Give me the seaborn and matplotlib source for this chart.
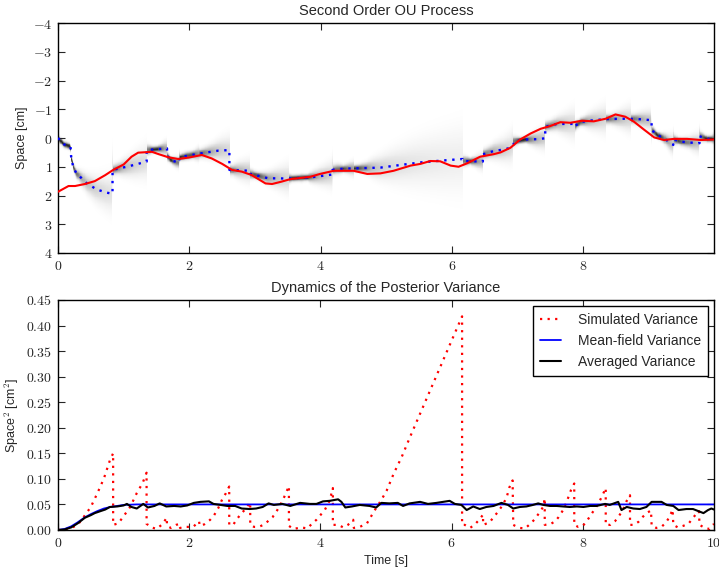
import numpy as np
import matplotlib
matplotlib.use("Agg")
import matplotlib.pyplot as plt
from matplotlib.ticker import FuncFormatter, MultipleLocator
from matplotlib.colors import PowerNorm
import seaborn as sns

# ---------------- data ----------------
# true trajectory (red, top)
true_t = [0.00, 0.16, 0.26, 0.41, 0.56, 0.72, 0.84, 1.00, 1.12, 1.22, 1.43, 1.53, 1.68, 1.83,
          1.99, 2.19, 2.34, 2.50, 2.65, 2.80, 2.95, 3.16, 3.26, 3.40, 3.54, 3.84, 3.99, 4.20,
          4.50, 4.71, 4.91, 5.11, 5.37, 5.52, 5.67, 5.82, 5.98, 6.10, 6.23, 6.43, 6.64, 6.74,
          6.89, 7.04, 7.20, 7.35, 7.50, 7.65, 7.80, 7.98, 8.16, 8.34, 8.49, 8.64, 8.77, 8.92,
          9.08, 9.23, 9.38, 9.58, 9.79, 9.99]
true_y = [1.87, 1.67, 1.67, 1.60, 1.50, 1.29, 1.11, 0.92, 0.65, 0.51, 0.48, 0.56, 0.67, 0.73,
          0.68, 0.59, 0.71, 0.90, 1.11, 1.17, 1.29, 1.58, 1.60, 1.52, 1.43, 1.35, 1.25, 1.14,
          1.14, 1.25, 1.23, 1.14, 0.96, 0.90, 0.80, 0.81, 0.96, 1.00, 0.88, 0.65, 0.56, 0.50,
          0.34, 0.05, -0.16, -0.32, -0.42, -0.55, -0.53, -0.60, -0.58, -0.67, -0.82, -0.74,
          -0.57, -0.30, -0.02, 0.07, 0.03, 0.03, 0.07, 0.05]

# posterior mean (blue dotted, top)
mean_t = [0.00, 0.09, 0.19, 0.20, 0.23, 0.28, 0.36, 0.44, 0.59, 0.74, 0.83,
          0.83, 1.10, 1.35,
          1.35, 1.66,
          1.66, 1.73, 1.84,
          1.85, 1.94, 2.19, 2.44, 2.61,
          2.61, 2.93,
          2.93, 3.20, 3.52,
          3.52, 3.84, 4.18,
          4.18, 4.25, 4.45, 4.91, 5.21, 5.52, 5.82, 6.16,
          6.16, 6.47,
          6.47, 6.64, 6.79, 6.89, 6.94,
          6.94, 7.04, 7.14, 7.30, 7.42,
          7.42, 7.60, 7.87,
          7.87, 7.96, 8.16, 8.36, 8.62, 8.82, 9.04,
          9.04, 9.13, 9.23, 9.37,
          9.37, 9.50, 9.63, 9.77,
          9.77, 9.89, 9.99]
mean_y = [0.00, 0.22, 0.30, 0.65, 1.00, 1.23, 1.40, 1.58, 1.79, 1.90, 1.94,
          1.11, 0.97, 0.82,
          0.42, 0.36,
          0.62, 0.78, 0.86,
          0.68, 0.63, 0.53, 0.44, 0.42,
          1.11, 1.14,
          1.25, 1.40, 1.41,
          1.41, 1.37, 1.27,
          1.11, 1.08, 1.06, 1.03, 0.94, 0.85, 0.79, 0.73,
          0.80, 0.82,
          0.57, 0.45, 0.40, 0.34, 0.22,
          0.12, 0.08, 0.05, 0.04, 0.01,
          -0.39, -0.49, -0.49,
          -0.41, -0.56, -0.62, -0.66, -0.67, -0.66, -0.62,
          -0.28, -0.10, 0.01, 0.24,
          0.05, 0.13, 0.16, 0.18,
          -0.06, 0.03, 0.03]

# simulated variance (red dotted, bottom)
sim_t = [0.00, 0.10, 0.20, 0.30, 0.40, 0.50, 0.60, 0.70, 0.79, 0.84,
         0.84, 0.92, 1.00, 1.10, 1.20, 1.29, 1.35,
         1.35, 1.43, 1.50, 1.58, 1.66,
         1.66, 1.72, 1.80, 1.86,
         1.86, 1.95, 2.06, 2.15,
         2.16, 2.23, 2.32, 2.38, 2.44, 2.51, 2.56, 2.61,
         2.61, 2.67, 2.72, 2.78, 2.85, 2.93,
         2.93, 2.99, 3.06, 3.13, 3.19, 3.27, 3.33, 3.40, 3.45, 3.52,
         3.52, 3.59, 3.71, 3.80, 3.87, 3.94, 4.00, 4.07, 4.14, 4.19,
         4.19, 4.27, 4.35, 4.42, 4.50,
         4.51, 4.60, 4.71, 4.83, 4.93, 5.01, 5.12, 5.24, 5.37, 6.16,
         6.16, 6.20, 6.28, 6.35, 6.42, 6.48,
         6.48, 6.58, 6.64, 6.71, 6.78, 6.84, 6.88, 6.93,
         6.94, 6.97, 7.04, 7.12, 7.20, 7.26, 7.34, 7.40, 7.42,
         7.42, 7.50, 7.58, 7.63, 7.70, 7.76, 7.82, 7.87,
         7.87, 7.93, 8.00, 8.06, 8.12, 8.20, 8.25, 8.29, 8.35,
         8.35, 8.42, 8.49, 8.54, 8.61, 8.67, 8.72,
         8.72, 8.78, 8.85, 8.91, 8.97, 9.04,
         9.05, 9.12, 9.20, 9.27, 9.32, 9.37,
         9.38, 9.45, 9.53, 9.61, 9.67, 9.72, 9.77,
         9.78, 9.86, 9.93, 10.00]
sim_v = [0.000, 0.001, 0.004, 0.010, 0.027, 0.045, 0.072, 0.101, 0.136, 0.150,
         0.010, 0.013, 0.027, 0.045, 0.072, 0.092, 0.112,
         0.012, 0.005, 0.002, 0.010, 0.024,
         0.008, 0.004, 0.010, 0.012,
         0.004, 0.006, 0.006, 0.017,
         0.008, 0.011, 0.020, 0.029, 0.042, 0.062, 0.072, 0.085,
         0.010, 0.010, 0.020, 0.030, 0.040, 0.054,
         0.010, 0.006, 0.006, 0.010, 0.016, 0.025, 0.036, 0.052, 0.065, 0.086,
         0.008, 0.002, 0.005, 0.003, 0.012, 0.020, 0.029, 0.040, 0.057, 0.082,
         0.010, 0.010, 0.005, 0.010, 0.020,
         0.004, 0.006, 0.013, 0.039, 0.059, 0.077, 0.111, 0.143, 0.183, 0.418,
         0.010, 0.010, 0.004, 0.010, 0.020, 0.030,
         0.010, 0.015, 0.025, 0.036, 0.049, 0.064, 0.083, 0.097,
         0.010, 0.008, 0.004, 0.003, 0.012, 0.020, 0.034, 0.046, 0.062,
         0.010, 0.011, 0.017, 0.025, 0.039, 0.057, 0.078, 0.091,
         0.010, 0.006, 0.008, 0.017, 0.029, 0.044, 0.055, 0.065, 0.082,
         0.010, 0.010, 0.017, 0.025, 0.039, 0.057, 0.068,
         0.010, 0.010, 0.016, 0.025, 0.033, 0.038,
         0.008, 0.004, 0.006, 0.015, 0.025, 0.040,
         0.010, 0.005, 0.008, 0.012, 0.022, 0.030, 0.037,
         0.010, 0.004, 0.002, 0.012]

# mean-field variance (blue, bottom)
mf_t = [0.0, 0.1, 0.2, 0.3, 0.4, 0.5, 0.6, 0.7, 0.8, 0.9, 1.0, 1.2, 10.0]
mf_v = [0.000, 0.002, 0.007, 0.015, 0.024, 0.031, 0.037, 0.042, 0.045, 0.047, 0.049, 0.050, 0.050]

# averaged variance (black, bottom)
avg_t = [0.00, 0.10, 0.20, 0.30, 0.41, 0.50, 0.56, 0.65, 0.72, 0.79, 0.90, 1.00, 1.05, 1.12,
         1.20, 1.30, 1.37, 1.47, 1.55, 1.65, 1.77, 1.87, 1.97, 2.07, 2.17, 2.30, 2.37, 2.48,
         2.58, 2.70, 2.80, 2.92, 3.02, 3.12, 3.21, 3.29, 3.42, 3.54, 3.69, 3.84, 3.94, 4.04,
         4.14, 4.27, 4.32, 4.38, 4.48, 4.60, 4.75, 4.85, 4.93, 5.05, 5.18, 5.26, 5.36, 5.52,
         5.64, 5.77, 5.87, 5.97, 6.05, 6.15, 6.23, 6.33, 6.43, 6.53, 6.64, 6.76, 6.86, 6.94,
         7.04, 7.14, 7.24, 7.32, 7.40, 7.50, 7.60, 7.70, 7.80, 7.91, 8.01, 8.11, 8.21, 8.34,
         8.41, 8.54, 8.59, 8.67, 8.77, 8.87, 8.97, 9.05, 9.20, 9.28, 9.38, 9.46, 9.58, 9.68,
         9.76, 9.84, 9.91, 9.96, 10.00]
avg_v = [0.000, 0.001, 0.005, 0.013, 0.024, 0.029, 0.033, 0.037, 0.040, 0.045, 0.046, 0.048,
         0.051, 0.045, 0.042, 0.051, 0.044, 0.047, 0.052, 0.046, 0.047, 0.046, 0.048, 0.053,
         0.055, 0.056, 0.051, 0.049, 0.047, 0.047, 0.042, 0.041, 0.042, 0.045, 0.052, 0.049,
         0.051, 0.047, 0.053, 0.051, 0.051, 0.056, 0.057, 0.060, 0.055, 0.044, 0.046, 0.049,
         0.047, 0.044, 0.053, 0.052, 0.053, 0.047, 0.052, 0.055, 0.051, 0.053, 0.055, 0.057,
         0.051, 0.049, 0.039, 0.046, 0.041, 0.045, 0.047, 0.053, 0.049, 0.042, 0.045, 0.046,
         0.049, 0.052, 0.049, 0.047, 0.047, 0.046, 0.045, 0.046, 0.045, 0.047, 0.047, 0.051,
         0.049, 0.055, 0.039, 0.045, 0.042, 0.041, 0.045, 0.055, 0.055, 0.049, 0.047, 0.039,
         0.041, 0.041, 0.037, 0.033, 0.039, 0.042, 0.040]

top_title = "Second Order OU Process"
bottom_title = "Dynamics of the Posterior Variance"
legend_labels = ["Simulated Variance", "Mean-field Variance", "Averaged Variance"]

# ---------------- style ----------------
sns.set_style("ticks", {"xtick.direction": "in", "ytick.direction": "in",
                        "axes.edgecolor": "black"})
plt.rcParams["font.family"] = ["Liberation Sans", "DejaVu Sans"]
plt.rcParams["mathtext.fontset"] = "cm"
plt.rcParams["axes.linewidth"] = 1.0

fig = plt.figure(figsize=(7.19, 5.67), dpi=100)
ax1 = fig.add_axes([0.0807, 0.5538, 0.9123, 0.4056])
ax2 = fig.add_axes([0.0807, 0.0653, 0.9123, 0.4056])

def cm_fmt(fmt):
    def f(v, pos):
        s = fmt % v
        return "$" + s + "$"
    return FuncFormatter(f)

DOT = (0, (1, 2.4))

# ---- top: posterior density shading ----
tg = np.linspace(0, 9.99, 1200)
yg = np.linspace(-4, 4, 500)
mu = np.interp(tg, mean_t, mean_y)
var = np.maximum(np.interp(tg, sim_t, sim_v), 0.004)
dens = np.exp(-(yg[:, None] - mu[None, :]) ** 2 / (2 * var[None, :])) / np.sqrt(2 * np.pi * var[None, :])
ax1.pcolormesh(tg, yg, dens, cmap="Greys", norm=PowerNorm(gamma=0.8, vmin=0, vmax=7.5),
               shading="auto", rasterized=True, zorder=0)

sns.lineplot(x=mean_t, y=mean_y, ax=ax1, color="blue", linestyle=DOT, lw=1.7,
             estimator=None, sort=False, zorder=3)
sns.lineplot(x=true_t, y=true_y, ax=ax1, color="red", lw=1.5,
             estimator=None, sort=False, zorder=4)
ax1.set_xlim(0, 9.99)
ax1.set_ylim(4, -4)
ax1.xaxis.set_major_locator(MultipleLocator(2))
ax1.yaxis.set_major_locator(MultipleLocator(1))
ax1.xaxis.set_major_formatter(cm_fmt("%g"))
ax1.yaxis.set_major_formatter(cm_fmt("%g"))
ax1.set_title(top_title, fontsize=10.5, pad=6)
ax1.set_ylabel("Space [cm]", fontsize=9)
ax1.set_xlabel("")

# ---- bottom: variances ----
sns.lineplot(x=sim_t, y=sim_v, ax=ax2, color="red", linestyle=DOT, lw=1.6,
             estimator=None, sort=False, label=legend_labels[0])
sns.lineplot(x=mf_t, y=mf_v, ax=ax2, color="blue", lw=1.3,
             estimator=None, sort=False, label=legend_labels[1])
sns.lineplot(x=avg_t, y=avg_v, ax=ax2, color="black", lw=1.5,
             estimator=None, sort=False, label=legend_labels[2])
ax2.set_xlim(0, 10)
ax2.set_ylim(0, 0.45)
ax2.xaxis.set_major_locator(MultipleLocator(2))
ax2.yaxis.set_major_locator(MultipleLocator(0.05))
ax2.xaxis.set_major_formatter(cm_fmt("%g"))
ax2.yaxis.set_major_formatter(cm_fmt("%.2f"))
ax2.set_title(bottom_title, fontsize=10.5, pad=6)
ax2.set_ylabel("Space$^2$ [cm$^2$]", fontsize=9)
ax2.set_xlabel("Time [s]", fontsize=9)

leg = ax2.legend(loc="upper right", frameon=True, fancybox=False, framealpha=1,
                 edgecolor="black", fontsize=10, handlelength=1.5, handletextpad=1.2,
                 borderaxespad=0.45, borderpad=0.5)
leg.get_frame().set_linewidth(1.0)

for ax in (ax1, ax2):
    ax.tick_params(which="major", direction="in", length=5, width=0.8,
                   top=True, right=True, labelsize=10, pad=4)
    for sp in ax.spines.values():
        sp.set_visible(True)
        sp.set_color("black")
        sp.set_linewidth(1.0)

fig.savefig("out.png", dpi=100)
